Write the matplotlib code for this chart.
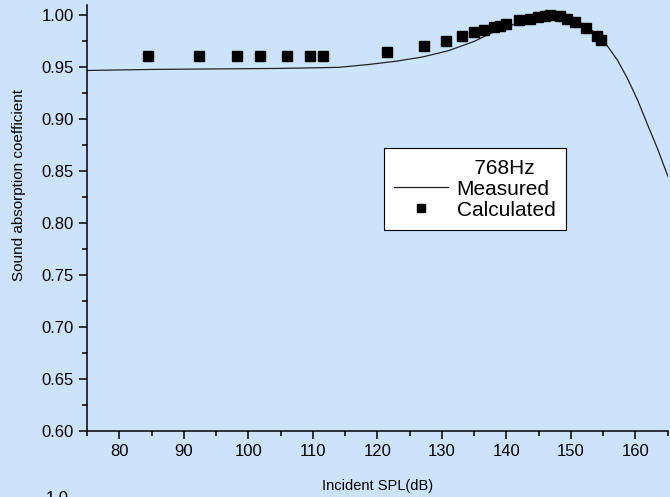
import matplotlib
matplotlib.use("Agg")
import matplotlib.pyplot as plt
from matplotlib.ticker import MultipleLocator, FormatStrFormatter
from matplotlib.lines import Line2D

plt.rcParams["font.family"] = ["Liberation Sans", "DejaVu Sans"]

# Measured curve
meas_spl = [75, 85, 95, 105, 114, 119, 123, 127, 131, 135, 138, 141, 144,
            146.5, 149, 151, 153, 154.7, 155.6, 157.2, 158.7, 160.3, 161.8,
            163.4, 165.1]
meas_alpha = [0.947, 0.948, 0.9485, 0.949, 0.950, 0.953, 0.956, 0.960, 0.966,
              0.975, 0.984, 0.991, 0.997, 1.000, 0.999, 0.995, 0.987, 0.977,
              0.971, 0.957, 0.940, 0.919, 0.896, 0.872, 0.844]

# Calculated points
calc_spl = [84.4, 92.3, 98.3, 101.8, 106.0, 109.6, 111.6, 121.5, 127.3, 130.7,
            133.1, 135.0, 136.5, 138.0, 139.0, 140.0, 141.9, 143.6, 144.9,
            146.0, 146.7, 148.3, 149.4, 150.7, 152.4, 154.0, 154.7]
calc_alpha = [0.961, 0.961, 0.961, 0.961, 0.961, 0.961, 0.961, 0.965, 0.971,
              0.975, 0.980, 0.984, 0.986, 0.989, 0.990, 0.992, 0.9955, 0.997,
              0.998, 0.999, 1.000, 0.999, 0.9965, 0.994, 0.988, 0.980, 0.976]

bg = "#cbe4fc"
fig = plt.figure(figsize=(6.7, 4.97), dpi=100, facecolor=bg)
ax = fig.add_axes([0.1299, 0.1328, 0.8667, 0.8571])
ax.set_facecolor(bg)

line, = ax.plot(meas_spl, meas_alpha, color="#222222", lw=0.9)
pts, = ax.plot(calc_spl, calc_alpha, "s", color="black", ms=6.8, ls="none")

ax.set_xlim(75, 165)
ax.set_ylim(0.60, 1.01)
ax.xaxis.set_major_locator(MultipleLocator(10))
ax.xaxis.set_minor_locator(MultipleLocator(5))
ax.yaxis.set_major_locator(MultipleLocator(0.05))
ax.yaxis.set_minor_locator(MultipleLocator(0.025))
ax.yaxis.set_major_formatter(FormatStrFormatter("%.2f"))

for s in ["top", "right"]:
    ax.spines[s].set_visible(False)
for s in ["left", "bottom"]:
    ax.spines[s].set_linewidth(1.1)
ax.tick_params(which="major", length=6, width=1.1, labelsize=12, direction="out")
ax.tick_params(which="minor", length=3.5, width=1.1, direction="out")

ax.set_xlabel("Incident SPL(dB)", fontsize=10.5, labelpad=14)
ax.set_ylabel("Sound absorption coefficient", fontsize=11)
ax.yaxis.set_label_coords(-0.105, 0.577)

# first row holds the frequency as a label with no handle
blank = Line2D([], [], color="none")
leg = ax.legend([blank, line, pts], ["   768Hz", "Measured", "Calculated"],
                loc="upper left", bbox_to_anchor=(0.511, 0.664),
                borderaxespad=0, frameon=True, fancybox=False, fontsize=15,
                handlelength=2.6, borderpad=0.5, labelspacing=0.1,
                handletextpad=0.4, markerscale=0.8)
leg.get_frame().set_edgecolor("black")
leg.get_frame().set_linewidth(0.8)
leg.get_frame().set_facecolor("white")
leg.get_frame().set_alpha(1)

fig.text(0.068, 0.012, "1.0", fontsize=12, va="top")

fig.savefig("out.png", dpi=100, facecolor=bg)
